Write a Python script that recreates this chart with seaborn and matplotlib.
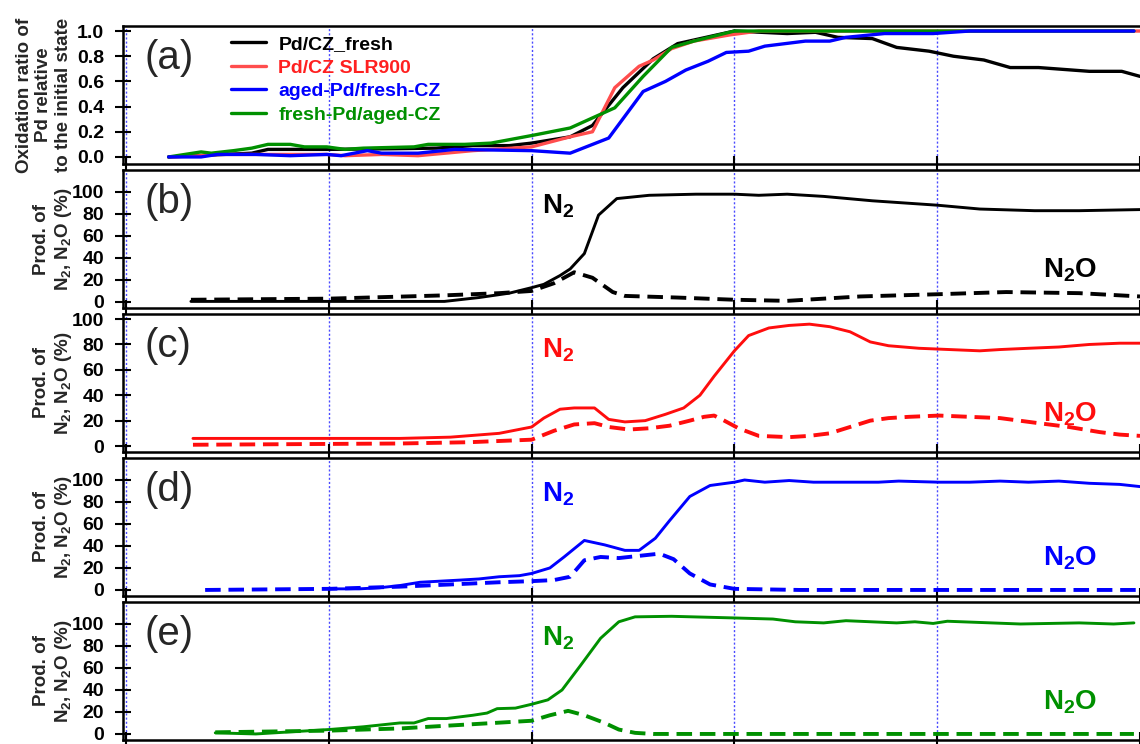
import numpy as np
import pandas as pd
import matplotlib
matplotlib.use('Agg')
import matplotlib.pyplot as plt
import seaborn as sns

# ---------------- data (x in arbitrary time units, ticks every 10) ----------------
# panel (a): oxidation ratio of Pd
a_black_x = [2.1, 6.2, 7.0, 9.9, 13.0, 15.3, 17.1, 18.9, 20.0, 21.9, 23.0, 24.5, 26.0, 27.2, 30.0, 32.6, 34.0,
             35.1, 36.8, 38.0, 39.6, 40.8, 42.3, 43.6, 45.0, 47.5, 49.1, 50.0]
a_black_y = [0.0, 0.03, 0.06, 0.06, 0.065, 0.07, 0.09, 0.09, 0.11, 0.16, 0.25, 0.55, 0.78, 0.9, 1.0, 0.98, 0.99,
             0.95, 0.94, 0.87, 0.84, 0.8, 0.77, 0.71, 0.71, 0.68, 0.68, 0.64]
a_red_x = [2.1, 3.7, 4.5, 9.9, 10.8, 12.6, 14.4, 17.1, 20.0, 21.9, 23.0, 24.1, 25.3, 26.0, 26.9, 28.0, 29.8, 31.2,
           40.0, 50.0]
a_red_y = [0.0, 0.01, 0.02, 0.02, 0.01, 0.02, 0.01, 0.05, 0.08, 0.16, 0.2, 0.55, 0.72, 0.77, 0.86, 0.92, 0.97, 1.0,
           1.0, 1.0]
a_blue_x = [2.1, 3.7, 4.5, 6.4, 8.1, 9.9, 10.6, 11.9, 12.6, 14.4, 16.2, 20.0, 21.9, 23.8, 25.5, 26.6, 27.6, 28.7,
            29.6, 30.7, 31.5, 33.5, 34.7, 35.5, 37.4, 39.8, 41.6, 49.7]
a_blue_y = [0.0, 0.0, 0.02, 0.02, 0.01, 0.02, 0.01, 0.05, 0.03, 0.03, 0.06, 0.05, 0.03, 0.15, 0.52, 0.6, 0.69, 0.76,
            0.83, 0.84, 0.88, 0.92, 0.92, 0.95, 0.98, 0.98, 1.0, 1.0]
a_green_x = [2.1, 3.7, 4.2, 5.3, 6.2, 7.0, 8.1, 8.8, 9.9, 10.8, 11.7, 14.2, 14.9, 16.7, 18.0, 20.0, 21.9, 24.1,
             25.5, 26.9, 28.0, 30.0, 40.0, 49.7]
a_green_y = [0.0, 0.04, 0.03, 0.05, 0.07, 0.1, 0.1, 0.08, 0.08, 0.06, 0.07, 0.08, 0.1, 0.1, 0.11, 0.17, 0.23, 0.39,
             0.64, 0.87, 0.92, 1.0, 1.0, 1.0]
legend_labels = ['Pd/CZ_fresh', 'Pd/CZ SLR900', 'aged-Pd/fresh-CZ', 'fresh-Pd/aged-CZ']

# panel (b): Pd/CZ_fresh
b_n2_x = [3.2, 6.1, 10.0, 13.5, 15.7, 17.4, 18.9, 20.0, 20.6, 21.4, 21.9, 22.6, 23.3, 24.2, 25.8, 28.1, 30.0,
          31.2, 32.6, 34.4, 36.8, 40.0, 42.1, 44.8, 47.0, 50.0]
b_n2_y = [0.5, 0.5, 0.5, 0.5, 0.5, 4, 8, 13, 16, 24, 30, 44, 79, 94, 97, 98, 98, 97, 98, 96, 92, 88, 84.5, 83, 83, 84]
b_n2o_x = [3.2, 10.0, 15.7, 18.4, 20.0, 21.1, 22.1, 23.0, 24.0, 24.6, 27.2, 30.0, 32.6, 36.2, 40.0, 43.4, 47.0, 50.0]
b_n2o_y = [2, 3, 6, 8, 10, 17, 27, 22, 9, 5.5, 4, 2, 1, 5, 7, 9, 8, 5]

# panel (c): Pd/CZ SLR900
c_n2_x = [3.3, 8.6, 13.5, 16.0, 18.4, 20.0, 20.6, 21.4, 22.1, 23.1, 23.8, 24.6, 25.6, 26.6, 27.5, 28.3, 29.0,
          30.0, 30.7, 31.7, 32.7, 33.7, 34.7, 35.7, 36.7, 37.6, 39.1, 40.6, 42.1, 43.1, 44.5, 46.0, 47.5, 49.0, 50.0]
c_n2_y = [6, 6, 6, 7, 10, 15, 22, 29, 30, 30, 21, 19, 20, 25, 30, 40, 55, 75, 87, 93, 95, 96, 94, 90, 82, 79, 77,
          76, 75, 76, 77, 78, 80, 81, 81]
c_n2o_x = [3.3, 13.5, 16.9, 20.0, 21.1, 22.1, 23.1, 23.8, 24.8, 25.8, 26.8, 27.8, 28.5, 29.0, 29.5, 30.2, 31.2,
           32.7, 33.7, 34.7, 35.7, 36.7, 37.6, 38.6, 40.1, 41.6, 43.1, 45.0, 46.5, 48.0, 49.0, 50.0]
c_n2o_y = [1, 2, 3, 5, 12, 17, 18, 15, 13, 14, 16, 20, 23, 24, 20, 14, 8, 7, 8, 10, 15, 20, 22, 23, 24, 23, 22, 18,
           15, 11, 9, 8]

# panel (d): aged-Pd/fresh-CZ
d_n2_x = [10.0, 11.5, 12.5, 13.5, 14.5, 15.5, 16.5, 17.4, 18.4, 19.4, 20.0, 20.9, 21.6, 22.6, 23.6, 24.6, 25.3,
          26.1, 26.8, 27.8, 28.8, 30.0, 30.5, 31.5, 32.7, 33.9, 35.2, 37.1, 38.1, 40.1, 41.6, 43.1, 44.5, 46.0, 47.5,
          49.0, 50.0]
d_n2_y = [1, 1, 2, 4, 7, 8, 9, 10, 12, 13, 15, 20, 30, 45, 41, 36, 36, 47, 63, 85, 95, 98, 100, 98, 99.5, 98, 98,
          98, 99, 98, 98, 99, 98, 99, 97, 96, 94]
d_n2o_x = [3.9, 10.0, 13.5, 16.0, 18.4, 20.0, 21.1, 21.9, 22.6, 23.4, 24.3, 25.3, 26.3, 27.0, 27.8, 28.8, 30.0,
           33.2, 50.0]
d_n2o_y = [0, 1, 3, 5, 7, 8, 9, 12, 27, 30, 29, 31, 33, 28, 15, 5, 1, 0, 0]

# panel (e): fresh-Pd/aged-CZ
e_n2_x = [4.4, 6.4, 10.0, 11.7, 13.5, 14.2, 14.9, 15.8, 17.1, 17.8, 18.3, 19.2, 20.0, 20.8, 21.5, 22.4, 23.4,
          24.3, 25.1, 26.9, 30.0, 31.9, 33.0, 34.4, 35.5, 38.0, 38.9, 39.8, 40.5, 44.1, 47.0, 48.7, 49.7]
e_n2_y = [1, 0, 4, 6.5, 10, 10, 14, 14, 17, 19, 23, 23.5, 27, 31, 40, 62, 87, 102, 106.5, 107, 105.5, 104.5, 102,
          101, 103, 101, 102, 100.5, 102.5, 100, 101, 100, 101]
e_n2o_x = [4.4, 10.0, 13.5, 20.0, 20.9, 21.8, 22.6, 23.6, 24.3, 25.1, 26.0, 49.7]
e_n2o_y = [1.5, 3, 5, 12, 17, 21, 17, 10, 4, 1, 0, 0]

x_ticks = [0, 10, 20, 30, 40, 50]
a_yticks = [0.0, 0.2, 0.4, 0.6, 0.8, 1.0]
p_yticks = [0, 20, 40, 60, 80, 100]

# ---------------- style ----------------
sns.set_style('ticks')
plt.rcParams['font.family'] = ['Liberation Sans', 'DejaVu Sans']
plt.rcParams['mathtext.fontset'] = 'custom'
plt.rcParams['mathtext.rm'] = 'Liberation Sans'
plt.rcParams['mathtext.bf'] = 'Liberation Sans:bold'
plt.rcParams['mathtext.it'] = 'Liberation Sans:italic'

BLACK = '#000000'
RED_A = '#ff4d4d'
RED = '#ff0d0d'
BLUE = '#0000ff'
GREEN = '#009000'
VLINE = '#4a4aff'

W, H = 1140, 744
fig = plt.figure(figsize=(W / 100, H / 100), dpi=100)
left = 123 / W
width = 1.0 - left
tops = [26, 170, 314, 458, 602]
ph = 138
axes = [fig.add_axes([left, 1 - (t + ph) / H, width, ph / H]) for t in tops]

DASH = (0, (4, 2))


def line(ax, xs, ys, color, lw, ls='-', label=None):
    df = pd.DataFrame({'x': xs, 'y': ys})
    sns.lineplot(data=df, x='x', y='y', ax=ax, color=color, lw=lw, linestyle=ls,
                 label=label, legend=False, estimator=None, sort=False)


def style_axis(ax, ylim, yticks, ylabels):
    ax.set_xlim(-0.15, 50.0)
    ax.set_ylim(*ylim)
    ax.set_xticks(x_ticks)
    ax.set_yticks(yticks)
    ax.set_yticklabels(ylabels, fontweight='bold')
    ax.tick_params(axis='both', direction='inout', length=11.5, width=1.5, labelsize=14, pad=8,
                   color='black', labelcolor='black')
    ax.tick_params(axis='x', labelbottom=False)
    ax.set_xlabel('')
    ax.set_ylabel('')
    for s in ['left', 'top', 'bottom']:
        ax.spines[s].set_linewidth(1.8)
        ax.spines[s].set_color('black')
    ax.spines['right'].set_visible(False)
    for xv in x_ticks[:-1]:
        ax.axvline(xv, color=VLINE, lw=1.0, ls=(0, (1.5, 1.5)), zorder=0)


# ---- panel (a)
ax = axes[0]
line(ax, a_black_x, a_black_y, BLACK, 2.4, label=legend_labels[0])
line(ax, a_red_x, a_red_y, RED_A, 2.4, label=legend_labels[1])
line(ax, a_green_x, a_green_y, GREEN, 2.4, label=legend_labels[3])
line(ax, a_blue_x, a_blue_y, BLUE, 2.4, label=legend_labels[2])
style_axis(ax, (-0.056, 1.04), a_yticks, [f'{v:.1f}' for v in a_yticks])
h, l = ax.get_legend_handles_labels()
order = [l.index(n) for n in legend_labels]
leg = ax.legend([h[i] for i in order], [l[i] for i in order], loc='upper left',
                bbox_to_anchor=(0.106, 0.93), frameon=False,
                prop={'weight': 'bold', 'size': 14}, handlelength=1.8, handletextpad=0.65,
                labelspacing=0.3, borderpad=0, borderaxespad=0)
for t, c in zip(leg.get_texts(), [BLACK, '#ff2020', BLUE, GREEN]):
    t.set_color(c)

# ---- panels (b)-(e)
prod_sets = [
    (axes[1], b_n2_x, b_n2_y, b_n2o_x, b_n2o_y, BLACK, (-5.5, 120)),
    (axes[2], c_n2_x, c_n2_y, c_n2o_x, c_n2o_y, RED, (-4.7, 104)),
    (axes[3], d_n2_x, d_n2_y, d_n2o_x, d_n2o_y, BLUE, (-5.5, 120)),
    (axes[4], e_n2_x, e_n2_y, e_n2o_x, e_n2o_y, GREEN, (-5.5, 120)),
]
for ax, nx, ny, ox, oy, col, yl in prod_sets:
    line(ax, ox, oy, col, 2.8, ls=DASH)
    line(ax, nx, ny, col, 2.1)
    style_axis(ax, yl, p_yticks, [str(v) for v in p_yticks])
    tr = ax.get_xaxis_transform()
    ax.text(20.5, 0.685, r'N$_\mathbf{2}$', transform=tr, color=col, fontsize=20,
            fontweight='bold', ha='left', va='baseline')
    ax.text(45.2, 0.222, r'N$_\mathbf{2}$O', transform=tr, color=col, fontsize=20,
            fontweight='bold', ha='left', va='baseline')

# panel letters
for ax, lab in zip(axes, ['(a)', '(b)', '(c)', '(d)', '(e)']):
    ax.text(0.0216, 0.766, lab, transform=ax.transAxes, fontsize=29, ha='left', va='center')

# y labels
fig.text(44 / W, 1 - (tops[0] + ph / 2) / H, 'Oxidation ratio of\nPd relative\nto the initial state',
         rotation=90, ha='center', va='center', multialignment='center', fontsize=13.5,
         fontweight='bold')
for t in tops[1:]:
    fig.text(53.5 / W, 1 - (t + ph / 2) / H, 'Prod. of\n' + r'N$_\mathbf{2}$, N$_\mathbf{2}$O (%)',
             rotation=90, ha='center', va='center', multialignment='center', fontsize=13.5,
             fontweight='bold')

fig.savefig('out.png', dpi=100)
